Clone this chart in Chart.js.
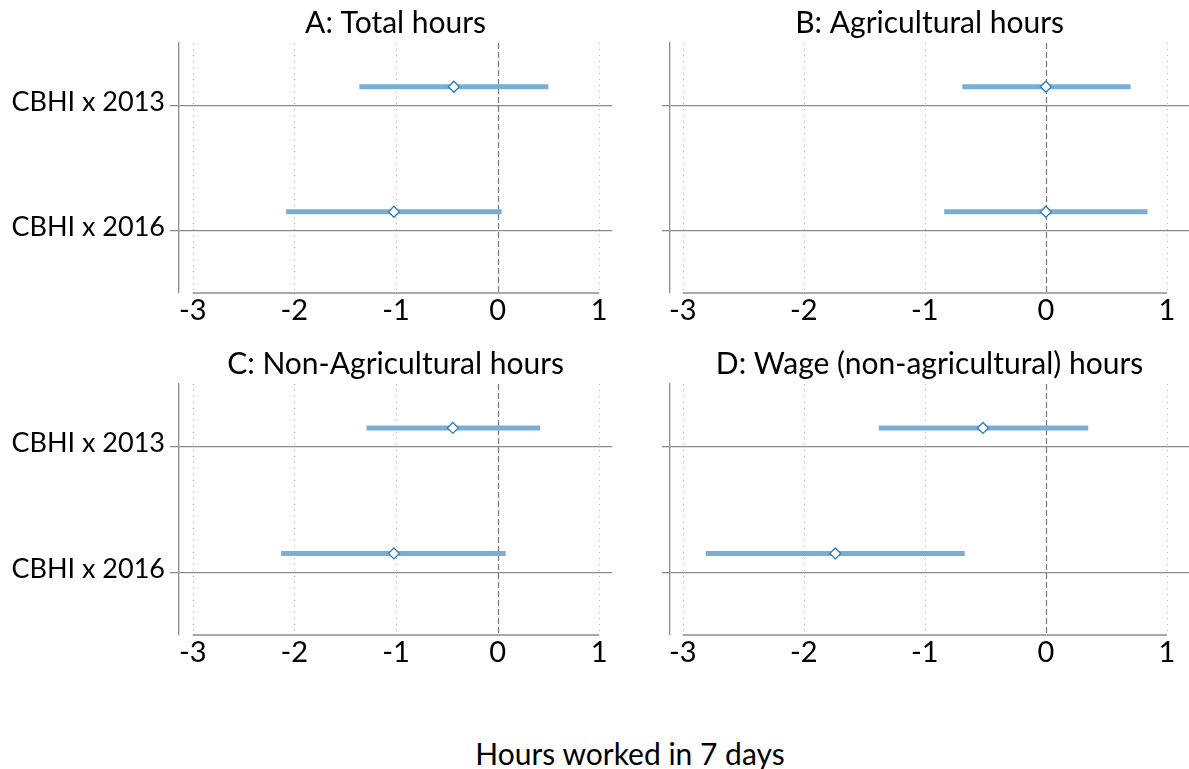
<!DOCTYPE html>
<html>
<head>
<meta charset="utf-8">
<script src="https://cdn.jsdelivr.net/npm/chart.js@4.4.1/dist/chart.umd.min.js"></script>
<style>
  html, body { margin: 0; padding: 0; background: #fff; }
  #wrap { position: relative; width: 1189px; height: 769px; overflow: hidden; }
  canvas { position: absolute; }
  #xtitle { position: absolute; left: 0; width: 1260px; top: 735px; text-align: center;
            font: 30px Lato, sans-serif; line-height: 36px; color: #000; }
</style>
</head>
<body>
<div id="wrap">
  <!-- each canvas is 7px wider than its plot: Chart.js keeps room for the marker overflow -->
  <canvas id="pA" width="619" height="330" style="left:0;top:0"></canvas>
  <canvas id="pB" width="576" height="330" style="left:620px;top:0"></canvas>
  <canvas id="pC" width="619" height="331" style="left:0;top:341px"></canvas>
  <canvas id="pD" width="576" height="331" style="left:620px;top:341px"></canvas>
  <div id="xtitle">Hours worked in 7 days</div>
</div>
<script>
// Regressors (rows) and x-axis ticks
const categories = ['CBHI x 2013', 'CBHI x 2016'];
const xTicks = [-3, -2, -1, 0, 1];

// Panel titles
const titleA = 'A: Total hours';
const titleB = 'B: Agricultural hours';
const titleC = 'C: Non-Agricultural hours';
const titleD = 'D: Wage (non-agricultural) hours';

// Point estimates and 95% confidence bounds, one entry per row
const totalEst = [-0.43, -1.02];
const totalLo  = [-1.36, -2.08];
const totalHi  = [0.50, 0.04];

const agriEst = [0.00, 0.00];
const agriLo  = [-0.69, -0.84];
const agriHi  = [0.70, 0.84];

const nonAgriEst = [-0.44, -1.02];
const nonAgriLo  = [-1.29, -2.13];
const nonAgriHi  = [0.42, 0.08];

const wageEst = [-0.52, -1.74];
const wageLo  = [-1.38, -2.81];
const wageHi  = [0.35, -0.67];

// Styling
const FONT = 'Lato, sans-serif';
const AXIS_GREY = '#8c8c8c';
const CI_BLUE = '#7aaed6';
const MARK_BLUE = '#2e7bbf';
const ROW_SHIFT = 0.15;   // estimates sit slightly above each row's rule

Chart.defaults.color = '#000';
Chart.defaults.font.family = FONT;

// Dotted vertical grid, dashed zero line and the x-axis rule spanning the ticks
const guides = {
  id: 'guides',
  beforeDatasetsDraw(chart) {
    const { ctx, chartArea: { top, bottom }, scales: { x } } = chart;
    ctx.save();
    xTicks.forEach(v => {
      const px = Math.round(x.getPixelForValue(v)) + 0.5;
      ctx.beginPath();
      if (v === 0) {
        ctx.setLineDash([6, 3]);
        ctx.strokeStyle = '#7a7a7a';
        ctx.lineWidth = 1.2;
      } else {
        ctx.setLineDash([1, 5]);
        ctx.strokeStyle = '#b0b0b0';
        ctx.lineWidth = 1;
      }
      ctx.moveTo(px, top);
      ctx.lineTo(px, bottom);
      ctx.stroke();
    });
    ctx.setLineDash([]);
    ctx.strokeStyle = AXIS_GREY;
    ctx.lineWidth = 1.3;
    ctx.beginPath();
    ctx.moveTo(x.getPixelForValue(xTicks[0]), bottom);
    ctx.lineTo(x.getPixelForValue(xTicks[xTicks.length - 1]), bottom);
    ctx.stroke();
    ctx.restore();
  }
};

function makePanel(id, title, est, lo, hi, cfg) {
  const datasets = [];
  categories.forEach((c, i) => {
    const yv = i + 1 - ROW_SHIFT;
    datasets.push({
      type: 'line',
      data: [{ x: lo[i], y: yv }, { x: hi[i], y: yv }],
      borderColor: CI_BLUE,
      borderWidth: 5,
      borderCapStyle: 'butt',
      pointRadius: 0,
      order: 2
    });
  });
  datasets.push({
    type: 'scatter',
    data: est.map((v, i) => ({ x: v, y: i + 1 - ROW_SHIFT })),
    pointStyle: 'rectRot',
    pointRadius: 5.5,
    backgroundColor: '#fff',
    borderColor: MARK_BLUE,
    borderWidth: 1.3,
    order: 1
  });

  return new Chart(document.getElementById(id), {
    type: 'scatter',
    data: { datasets },
    plugins: [guides],
    options: {
      responsive: false,
      animation: false,
      devicePixelRatio: 1,
      layout: { padding: 0 },
      plugins: {
        legend: { display: false },
        tooltip: { enabled: false },
        title: {
          display: true,
          text: title,
          fullSize: false,
          color: '#000',
          font: { family: FONT, size: 30, weight: 'normal', lineHeight: 1.2 },
          padding: { top: 5, bottom: 2 }
        }
      },
      scales: {
        x: {
          type: 'linear',
          min: cfg.xMin,
          max: cfg.xMax,
          afterBuildTicks: s => { s.ticks = xTicks.map(v => ({ value: v })); },
          afterFit: s => { s.height = 37; s.paddingLeft = 0; s.paddingRight = 0; },
          grid: { display: false, drawTicks: false },
          border: { display: false },
          ticks: {
            autoSkip: false,
            maxRotation: 0,
            padding: 0,
            color: '#000',
            font: { family: FONT, size: 29 },
            callback: v => String(v)
          }
        },
        y: {
          type: 'linear',
          reverse: true,
          min: 0.5,
          max: 2.5,
          afterBuildTicks: s => { s.ticks = categories.map((c, i) => ({ value: i + 1 })); },
          afterFit: s => { s.width = cfg.axisWidth; s.paddingTop = 0; s.paddingBottom = 0; },
          grid: {
            color: AXIS_GREY,
            lineWidth: 1.3,
            drawTicks: true,
            tickLength: cfg.tickLen
          },
          border: { display: true, color: AXIS_GREY, width: 1.3 },
          ticks: {
            display: cfg.showLabels,
            padding: 5,
            labelOffset: -3,
            color: '#000',
            font: { family: FONT, size: 27 },
            callback: v => categories[v - 1]
          }
        }
      }
    }
  });
}

const leftCfg  = { axisWidth: 179, xMin: -3.135, xMax: 1.128, showLabels: true, tickLen: 9 };
const rightCfg = { axisWidth: 50,  xMin: -3.105, xMax: 1.184, showLabels: false, tickLen: 8 };

makePanel('pA', titleA, totalEst, totalLo, totalHi, leftCfg);
makePanel('pB', titleB, agriEst, agriLo, agriHi, rightCfg);
makePanel('pC', titleC, nonAgriEst, nonAgriLo, nonAgriHi, leftCfg);
makePanel('pD', titleD, wageEst, wageLo, wageHi, rightCfg);
</script>
</body>
</html>
